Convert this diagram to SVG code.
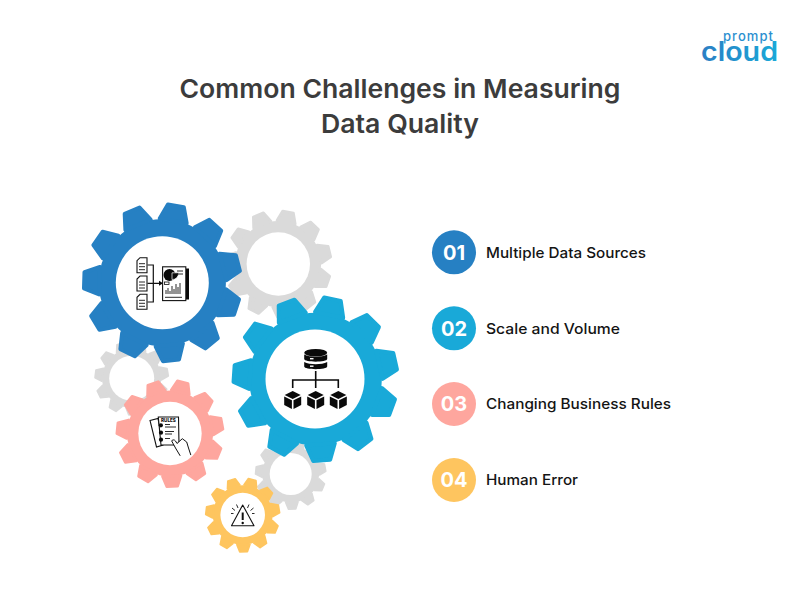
<svg xmlns="http://www.w3.org/2000/svg" xmlns:xlink="http://www.w3.org/1999/xlink" width="800" height="600" viewBox="0 0 800 600">
<style>
text{font-family:"Inter","Noto Sans","Liberation Sans",sans-serif}
.title{font-size:26px;font-weight:600;fill:#3c3c3c;text-anchor:middle}
.lab{font-size:14.5px;font-weight:500;fill:#141414}
.num{font-size:20px;font-weight:700;fill:#fff;text-anchor:middle}
.gb{fill:#2680c3;stroke:#2680c3}.gc{fill:#19a9d8;stroke:#19a9d8}.gp{fill:#fea69e;stroke:#fea69e}.gy{fill:#fec55f;stroke:#fec55f}.gg{fill:#dadada;stroke:#dadada}
.hole{fill:#fff}
.ln{fill:none;stroke:#111;stroke-width:1.2}
.lt{fill:none;stroke:#111;stroke-width:.9}
.k{fill:#0a0a0a}
.pg{fill:#fff;stroke:#111;stroke-width:1.1}
</style>
<defs>
<linearGradient id="lg" x1="0" x2="1" y1="0" y2="0"><stop offset="0" stop-color="#2b7fc4"/><stop offset="1" stop-color="#1aa9d8"/></linearGradient>
<polygon id="t" points="-17,-78 -10,-97 10,-97 17,-78" stroke-width="5" stroke-linejoin="round"/>
<g id="gear">
<circle r="79" stroke="none"/>
<use xlink:href="#t"/><use xlink:href="#t" transform="rotate(32.727)"/><use xlink:href="#t" transform="rotate(65.455)"/><use xlink:href="#t" transform="rotate(98.182)"/><use xlink:href="#t" transform="rotate(130.909)"/><use xlink:href="#t" transform="rotate(163.636)"/><use xlink:href="#t" transform="rotate(196.364)"/><use xlink:href="#t" transform="rotate(229.091)"/><use xlink:href="#t" transform="rotate(261.818)"/><use xlink:href="#t" transform="rotate(294.545)"/><use xlink:href="#t" transform="rotate(327.273)"/>
</g>
<g id="doc"><path class="pg" d="M140,0H147V15H137V3Z"/><path class="lt" d="M139,6H145M139,9H145M139,12H145"/></g>
<g id="cube"><path class="k" d="M0,-9L8,-5L0,-1L-8,-5Z"/><path class="k" d="M-8.5,-3.5L-0.8,0.3V9L-8.5,5Z"/><path class="k" d="M8.5,-3.5L0.8,0.3V9L8.5,5Z"/></g>
<g id="dbs"><path class="k" d="M-11.5,0V4.5C-11.5,8 11.5,8 11.5,4.5V0C6,3 -6,3 -11.5,0Z"/></g>
</defs>
<rect width="800" height="600" fill="#fff"/>

<g id="gear-gray-1"><use xlink:href="#gear" class="gg" transform="translate(278,264) rotate(11) scale(.545)"/><circle class="hole" cx="278.3" cy="264" r="31.7"/></g>
<g id="gear-gray-2"><use xlink:href="#gear" class="gg" transform="translate(131.7,378.3) rotate(15) scale(.375)"/><circle class="hole" cx="131.7" cy="378.3" r="22.5"/></g>
<g id="gear-gray-3"><use xlink:href="#gear" class="gg" transform="translate(290.7,474) rotate(14) scale(.36)"/><circle class="hole" cx="290.7" cy="474" r="21"/></g>

<g id="gear-blue"><use xlink:href="#gear" class="gb" transform="translate(162.3,282.7) rotate(10) scale(.805)"/><circle class="hole" cx="162.3" cy="282.7" r="46.5"/>
<use xlink:href="#doc" y="257.7"/><use xlink:href="#doc" y="276"/><use xlink:href="#doc" y="294.3"/>
<path class="ln" d="M147.5,265H153.3V302H147.5M147.5,283.3H160"/><path class="k" d="M159,280.8L163,283.3L159,285.8Z"/>
<rect x="186" y="268.5" width="3" height="31" class="k"/>
<rect class="pg" x="162.6" y="266.8" width="23.2" height="33.8"/>
<circle class="k" cx="169.5" cy="275" r="6"/><path class="k" stroke="#fff" stroke-width=".7" d="M172,272.8H178.5A6,6 0 0 1 172,279.5Z"/>
<path class="lt" d="M177,271H183M177,274H183"/>
<rect x="164.5" y="282" width="4.5" height="2.5" fill="#fff" stroke="#111" stroke-width=".8"/>
<path class="lt" d="M166,294V290M168,294V288M170,294V291M172,294V286M174,294V289M176,294V284M178,294V287M180,294V283M165,297.3H182"/>
</g>

<g id="gear-cyan"><use xlink:href="#gear" class="gc" transform="translate(315.5,379) rotate(12) scale(.84)"/><circle class="hole" cx="315" cy="379" r="49.5"/>
<ellipse class="k" cx="315.7" cy="352.7" rx="11.5" ry="3.8"/><use xlink:href="#dbs" transform="translate(315.7,354.5)"/><use xlink:href="#dbs" transform="translate(315.7,362)"/>
<rect x="310" y="358" width="3.5" height="1.4" fill="#fff"/><rect x="310" y="365.5" width="3.5" height="1.4" fill="#fff"/>
<path fill="none" stroke="#0a0a0a" stroke-width="1.6" d="M315.7,371V388M292.7,388V380H338.3V388"/>
<use xlink:href="#cube" x="292.7" y="400"/><use xlink:href="#cube" x="315.7" y="400"/><use xlink:href="#cube" x="338.3" y="400"/>
</g>

<g id="gear-pink"><use xlink:href="#gear" class="gp" transform="translate(170,433.5) rotate(14) scale(.545)"/><circle class="hole" cx="170" cy="433.5" r="31.7"/>
<path class="pg" d="M150,420.5L158,418.5L163,445L156.5,447Z"/>
<path class="pg" d="M158.3,417H178.5L179,445H161Z"/>
<text x="168.5" y="422" font-size="4.6" font-weight="800" fill="#111" text-anchor="middle">RULES</text>
<circle class="k" cx="160.9" cy="425.3" r="2.1"/><circle class="k" cx="161" cy="432.7" r="2.1"/><circle class="k" cx="161" cy="439.7" r="2.1"/>
<path class="lt" d="M165,424.5H170M165,427H176M165,431.5H174M165,434H172M165,438.5H170"/>
<path fill="#fff" stroke="#111" stroke-width="1" stroke-linejoin="round" stroke-linecap="round" d="M180,455.5L175.5,448L171.7,441C172,439.5 174.5,439.5 175.5,441L177,443.5L182.3,438.7L186.7,442L188.5,448L190.7,454.7"/>
</g>

<g id="gear-yellow"><use xlink:href="#gear" class="gy" transform="translate(242.7,515) rotate(15) scale(.378)"/><circle class="hole" cx="242.7" cy="515" r="22.3"/>
<path fill="none" stroke="#111" stroke-width="1.1" stroke-linejoin="round" d="M242.7,505L254,525.7H231.5Z"/>
<path stroke="#111" stroke-width="2" d="M242.7,512.5V520"/><circle class="k" cx="242.7" cy="523" r="1.2"/>
<path class="lt" d="M236.5,504.5L238,508M232,508L235,510.5M231,513.5H233.5M249,504.5L247.5,508M253.5,508L250.5,510.5M254.5,513.5H252"/>
</g>

<g id="title">
<text class="title" x="400" y="98" textLength="441" lengthAdjust="spacingAndGlyphs">Common Challenges in Measuring</text>
<text class="title" x="400" y="133" textLength="158" lengthAdjust="spacingAndGlyphs">Data Quality</text>
</g>

<g id="logo">
<text x="723" y="41" font-size="13" font-weight="500" fill="#2b8fd0" textLength="50" lengthAdjust="spacing">prompt</text>
<text x="701" y="61" font-size="27" font-weight="600" fill="url(#lg)" textLength="77" lengthAdjust="spacingAndGlyphs">cloud</text>
</g>

<g id="item-1"><circle cx="454" cy="252.3" r="22" fill="#2680c3"/><text class="num" x="454" y="259.5">01</text><text class="lab" x="486" y="257.5" textLength="160" lengthAdjust="spacingAndGlyphs">Multiple Data Sources</text></g>
<g id="item-2"><circle cx="454" cy="328.3" r="22" fill="#19a9d8"/><text class="num" x="454" y="335.5">02</text><text class="lab" x="486" y="333.5" textLength="134" lengthAdjust="spacingAndGlyphs">Scale and Volume</text></g>
<g id="item-3"><circle cx="454" cy="404" r="22" fill="#fea69e"/><text class="num" x="454" y="411">03</text><text class="lab" x="486" y="409" textLength="185" lengthAdjust="spacingAndGlyphs">Changing Business Rules</text></g>
<g id="item-4"><circle cx="454" cy="480" r="22" fill="#fec55f"/><text class="num" x="454" y="487">04</text><text class="lab" x="486" y="485" textLength="92" lengthAdjust="spacingAndGlyphs">Human Error</text></g>
</svg>
